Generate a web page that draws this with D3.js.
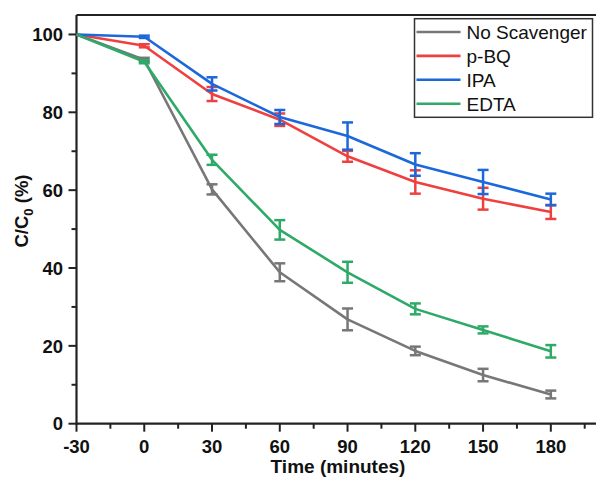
<!DOCTYPE html>
<html>
<head>
<meta charset="utf-8">
<script src="https://cdn.jsdelivr.net/npm/d3@7"></script>
<style>
  html, body { margin: 0; padding: 0; background: #fff; }
  svg { display: block; }
</style>
</head>
<body>
<svg id="chart" width="596" height="477"></svg>
<script>
const times = [-30, 0, 30, 60, 90, 120, 150, 180];
const seriesNames = ["No Scavenger", "p-BQ", "IPA", "EDTA"];
const seriesColors = ["#777777", "#ef4040", "#1d68d9", "#2eaa68"];
const noScavenger = [100, 93.5, 60.2, 38.9, 26.8, 18.7, 12.5, 7.5];
const noScavengerErr = [0, 0.5, 1.3, 2.3, 2.8, 1.1, 1.6, 1.0];
const pBQ = [100, 97.1, 84.7, 78.1, 68.7, 62.1, 57.8, 54.4];
const pBQErr = [0, 0.4, 1.8, 1.6, 1.4, 3.0, 2.8, 1.8];
const ipa = [100, 99.4, 87.3, 78.8, 73.9, 66.6, 62.1, 57.6];
const ipaErr = [0, 0.3, 1.7, 1.8, 3.5, 2.9, 3.1, 1.5];
const edta = [100, 93.0, 67.8, 49.8, 38.9, 29.5, 24.1, 18.6];
const edtaErr = [0, 0.4, 1.3, 2.5, 2.7, 1.4, 0.9, 1.6];
const xTicks = [-30, 0, 30, 60, 90, 120, 150, 180];
const yTicks = [0, 20, 40, 60, 80, 100];

const values = [noScavenger, pBQ, ipa, edta];
const errors = [noScavengerErr, pBQErr, ipaErr, edtaErr];

(function () {
const svg = d3.select("#chart");
const pL = 76.5, pR = 596, pT = 15, pB = 423.7;

const x = d3.scaleLinear().domain([-30, 200]).range([pL, pR]);
const y = d3.scaleLinear().domain([0, 105]).range([pB, pT]);

// top border
svg.append("line").attr("x1", pL).attr("x2", pR).attr("y1", pT).attr("y2", pT)
  .attr("stroke", "#222").attr("stroke-width", 2);

// x axis
const xMinor = d3.range(-15, 200, 30);
svg.append("g").selectAll("line").data(xMinor).join("line")
  .attr("x1", d => x(d)).attr("x2", d => x(d)).attr("y1", pB).attr("y2", pB + 5)
  .attr("stroke", "#222").attr("stroke-width", 2);
svg.append("g").selectAll("line").data(xTicks).join("line")
  .attr("x1", d => x(d)).attr("x2", d => x(d)).attr("y1", pB).attr("y2", pB + 8)
  .attr("stroke", "#222").attr("stroke-width", 2);
svg.append("g").selectAll("text").data(xTicks).join("text")
  .attr("x", d => x(d)).attr("y", 453)
  .attr("text-anchor", "middle")
  .attr("font-family", "Liberation Sans, Arial, sans-serif")
  .attr("font-weight", "bold").attr("font-size", 18.5)
  .attr("fill", "#111")
  .text(d => d);

// y axis
const yMinor = d3.range(10, 105, 20);
svg.append("g").selectAll("line").data(yMinor).join("line")
  .attr("x1", pL - 5).attr("x2", pL).attr("y1", d => y(d)).attr("y2", d => y(d))
  .attr("stroke", "#222").attr("stroke-width", 2);
svg.append("g").selectAll("line").data(yTicks).join("line")
  .attr("x1", pL - 8).attr("x2", pL).attr("y1", d => y(d)).attr("y2", d => y(d))
  .attr("stroke", "#222").attr("stroke-width", 2);
svg.append("g").selectAll("text").data(yTicks).join("text")
  .attr("x", 63).attr("y", d => y(d)).attr("dy", "0.36em")
  .attr("text-anchor", "end")
  .attr("font-family", "Liberation Sans, Arial, sans-serif")
  .attr("font-weight", "bold").attr("font-size", 18.5)
  .attr("fill", "#111")
  .text(d => d);

svg.append("line").attr("x1", pL).attr("x2", pR).attr("y1", pB).attr("y2", pB)
  .attr("stroke", "#222").attr("stroke-width", 2.2);
svg.append("line").attr("x1", pL).attr("x2", pL).attr("y1", pT).attr("y2", pB + 1)
  .attr("stroke", "#222").attr("stroke-width", 2.2);

// axis titles
svg.append("text").attr("x", 338).attr("y", 473)
  .attr("text-anchor", "middle")
  .attr("font-family", "Liberation Sans, Arial, sans-serif")
  .attr("font-weight", "bold").attr("font-size", 19)
  .attr("fill", "#111")
  .text("Time (minutes)");

const yt = svg.append("text")
  .attr("transform", "translate(28, 211) rotate(-90)")
  .attr("text-anchor", "middle")
  .attr("font-family", "Liberation Sans, Arial, sans-serif")
  .attr("font-weight", "bold").attr("font-size", 18.5)
  .attr("fill", "#111");
yt.append("tspan").text("C/C");
yt.append("tspan").attr("font-size", 13).attr("dy", 5).text("0");
yt.append("tspan").attr("dy", -5).text(" (%)");

// series
const line = d3.line().x((d, i) => x(times[i])).y(d => y(d)).curve(d3.curveLinear);
const capW = 5.5;
values.forEach((vals, si) => {
  const g = svg.append("g");
  g.append("path").attr("d", line(vals))
    .attr("fill", "none").attr("stroke", seriesColors[si]).attr("stroke-width", 2.6)
    .attr("stroke-linejoin", "round");
  const errs = errors[si];
  times.forEach((t, i) => {
    if (i === 0) return;
    const e = Math.max(errs[i], 0.3);
    const cx = x(t), y1 = y(vals[i] - e), y2 = y(vals[i] + e);
    g.append("line").attr("x1", cx).attr("x2", cx).attr("y1", y1).attr("y2", y2)
      .attr("stroke", seriesColors[si]).attr("stroke-width", 2.5);
    [y1, y2].forEach(yy => g.append("line")
      .attr("x1", cx - capW).attr("x2", cx + capW).attr("y1", yy).attr("y2", yy)
      .attr("stroke", seriesColors[si]).attr("stroke-width", 2.5));
  });
});

// legend
const lg = svg.append("g");
lg.append("rect").attr("x", 414.5).attr("y", 18.7).attr("width", 178).attr("height", 98.6)
  .attr("fill", "#fff").attr("stroke", "#333").attr("stroke-width", 1.5);
seriesNames.forEach((name, i) => {
  const ly = 32 + i * 23.9;
  lg.append("line").attr("x1", 416.5).attr("x2", 460.5).attr("y1", ly).attr("y2", ly)
    .attr("stroke", seriesColors[i]).attr("stroke-width", 2.6);
  lg.append("text").attr("x", 466.5).attr("y", ly).attr("dy", "0.36em")
    .attr("font-family", "Liberation Sans, Arial, sans-serif")
    .attr("font-size", 19).attr("fill", "#111")
    .text(name);
});
})();
</script>
</body>
</html>
